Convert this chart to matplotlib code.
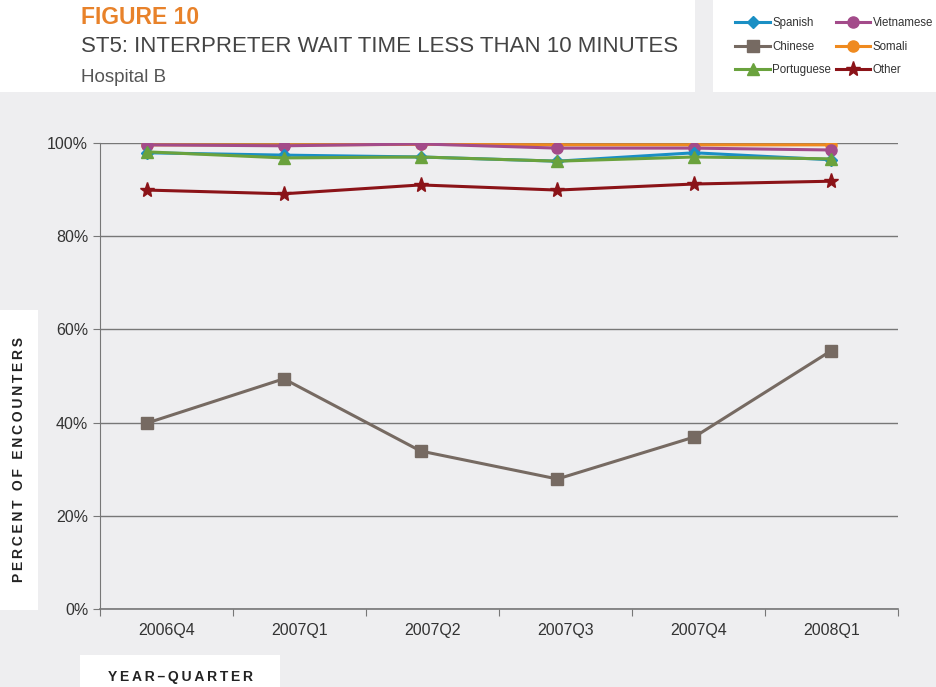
import matplotlib.pyplot as plt
from matplotlib.patches import Rectangle
from matplotlib.ticker import FuncFormatter

plt.rcParams['font.family'] = ['Liberation Sans', 'DejaVu Sans']

quarters = ["2006Q4", "2007Q1", "2007Q2", "2007Q3", "2007Q4", "2008Q1"]

spanish = [97.9, 97.4, 97.0, 96.1, 97.9, 96.4]
chinese = [39.9, 49.4, 33.9, 27.9, 36.9, 55.4]
portuguese = [98.1, 96.8, 97.0, 96.1, 97.0, 96.6]
vietnamese = [99.6, 99.4, 99.8, 98.9, 98.9, 98.5]
somali = [99.6, 99.6, 99.7, 99.6, 99.6, 99.6]
other = [89.9, 89.1, 91.0, 89.9, 91.2, 91.8]

bg = "#eeeef0"
W, H = 937, 687

fig = plt.figure(figsize=(9.37, 6.87), dpi=100, facecolor=bg)

def box(x0, y0, x1, y1):
    # pixel box (top-left origin) -> figure rect
    fig.patches.append(Rectangle((x0 / W, 1 - y1 / H), (x1 - x0) / W, (y1 - y0) / H,
                                 transform=fig.transFigure, facecolor="white",
                                 edgecolor="none", zorder=0))

def spaced(s):
    return "\u2009".join(s)

box(0, 0, 695, 92)
box(713, 0, 937, 92)
box(0, 310, 38, 610)
box(80, 655, 280, 687)

ax = fig.add_axes([100 / W, 1 - 609 / H, 798 / W, 466 / H])
ax.set_facecolor(bg)

# points sit slightly left of the category centres in the original
x0_px, step_px, left_px, right_px = 147.0, 136.8, 100.0, 898.0
def px2data(p):
    return (p - x0_px) / step_px

x = range(len(quarters))
series = [
    ("Spanish", spanish, "#1a8fc4", "D", 6),
    ("Chinese", chinese, "#766a62", "s", 8.5),
    ("Portuguese", portuguese, "#6aa23d", "^", 8.5),
    ("Vietnamese", vietnamese, "#a34b8a", "o", 8),
    ("Somali", somali, "#ef8a1f", "o", 8),
    ("Other", other, "#8b1318", "*", 11),
]
order = ["Chinese", "Other", "Somali", "Vietnamese", "Spanish", "Portuguese"]
lines = {}
for name, vals, col, mk, ms in series:
    z = 3 + order.index(name)
    ln, = ax.plot(x, vals, color=col, marker=mk, markersize=ms, linewidth=2.2,
                  label=name, zorder=z)
    lines[name] = ln

ax.set_xlim(px2data(left_px), px2data(right_px))
ax.set_ylim(0, 100)
ax.set_yticks([0, 20, 40, 60, 80, 100])
ax.yaxis.set_major_formatter(FuncFormatter(lambda v, p: f"{v:.0f}%"))
cat_w = (right_px - left_px) / len(quarters)
ax.set_xticks([px2data(left_px + cat_w * k) for k in range(len(quarters) + 1)])
ax.set_xticklabels([])
ax.set_xticks([px2data(left_px + cat_w * (k + 0.5)) for k in range(len(quarters))], minor=True)
ax.set_xticklabels(quarters, minor=True)
ax.tick_params(axis="x", which="minor", length=0, pad=10, labelsize=11.5, labelcolor="#333333")
ax.tick_params(axis="x", which="major", length=5, direction="out", color="#777777")
ax.tick_params(axis="y", length=5, color="#777777", labelsize=11.5, labelcolor="#333333")
ax.grid(axis="y", color="#777777", linewidth=1)
ax.set_axisbelow(True)
for s in ["top", "right"]:
    ax.spines[s].set_visible(False)
ax.spines["left"].set_color("#777777")
ax.spines["bottom"].set_color("#777777")
ax.spines["bottom"].set_linewidth(1.2)

fig.text(81 / W, 1 - 18 / H, "FIGURE 10", color="#e8822a", fontsize=16.5, fontweight="bold",
         va="center", ha="left")
fig.text(81 / W, 1 - 47 / H, "ST5: INTERPRETER WAIT TIME LESS THAN 10 MINUTES",
         color="#444444", fontsize=16, va="center", ha="left")
fig.text(81 / W, 1 - 77 / H, "Hospital B", color="#555555", fontsize=13.5,
         va="center", ha="left")
fig.text(19 / W, 1 - 460 / H, spaced("PERCENT OF ENCOUNTERS"), rotation=90, color="#222222",
         fontsize=10, fontweight="bold", va="center", ha="center")
fig.text(181 / W, 1 - 677 / H, spaced("YEAR–QUARTER"),
         color="#222222", fontsize=10, fontweight="bold", va="center", ha="center")

handles = [lines[n] for n in ["Spanish", "Chinese", "Portuguese", "Vietnamese", "Somali", "Other"]]
leg = fig.legend(handles=handles, loc="upper left", bbox_to_anchor=(725 / W, 1 - 7 / H),
                 ncol=2, frameon=False, fontsize=8.3, handlelength=3.0, handletextpad=0.2,
                 columnspacing=0.4, labelspacing=1.0, borderpad=0.4)
for t in leg.get_texts():
    t.set_color("#333333")

fig.savefig("out.png", dpi=100, facecolor=bg)
